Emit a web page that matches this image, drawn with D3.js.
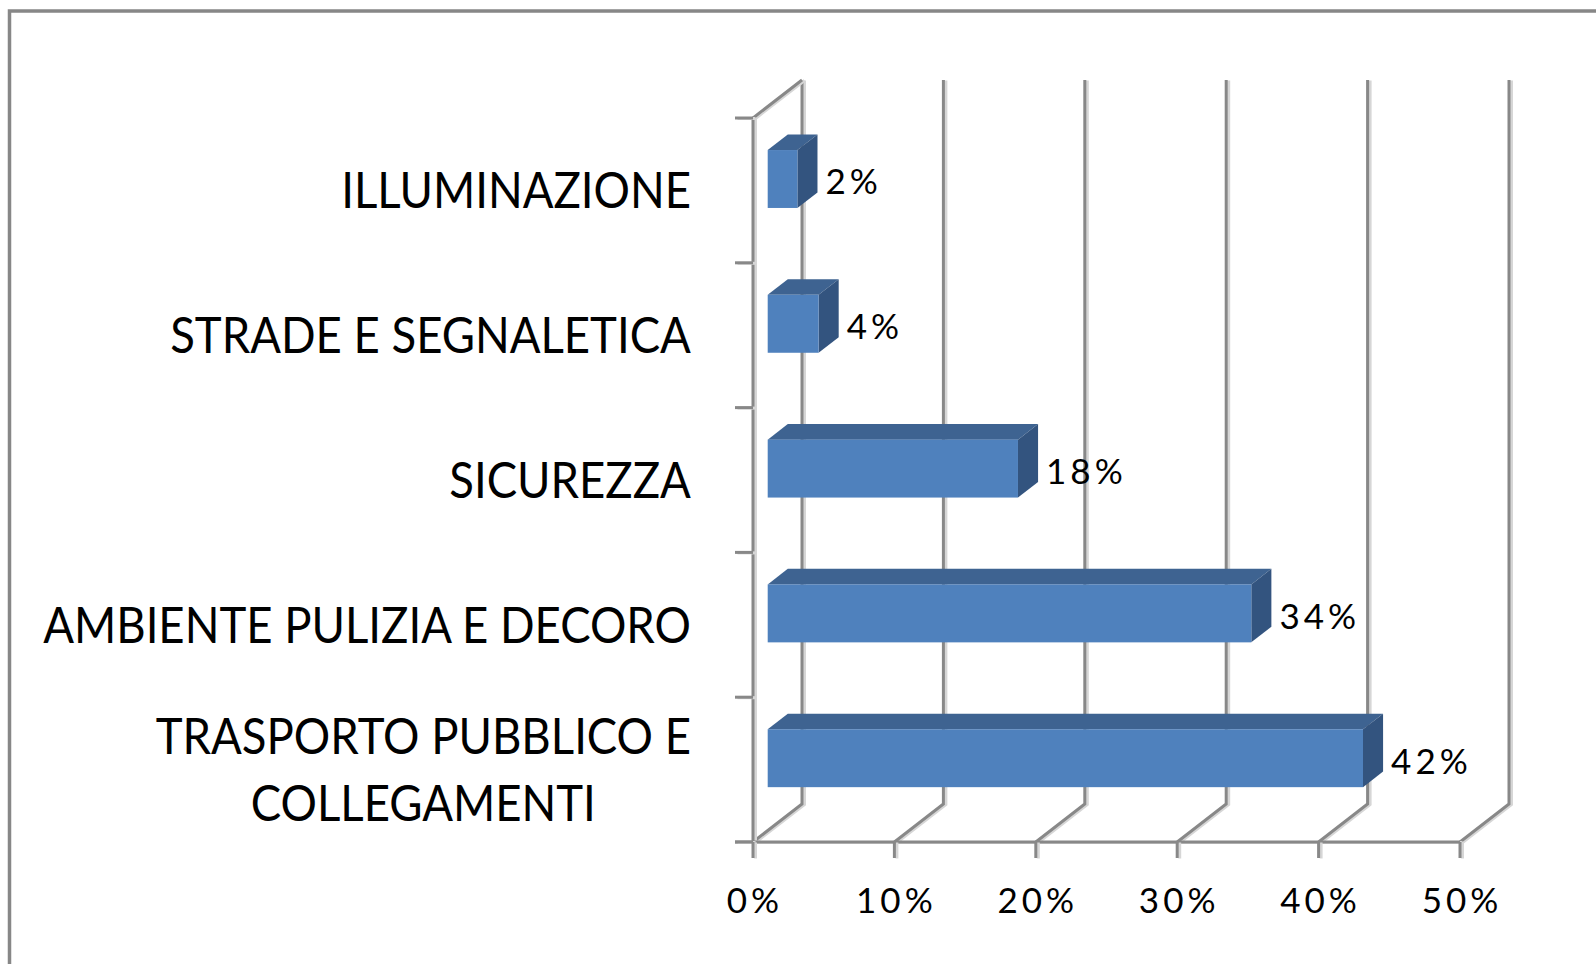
<!DOCTYPE html>
<html>
<head>
<meta charset="utf-8">
<script src="https://cdn.jsdelivr.net/npm/d3@7"></script>
<style>
  body { margin: 0; background: #fff; }
  svg { display: block; }
  text { font-family: Lato, "Open Sans", sans-serif; fill: #000; }
</style>
</head>
<body>
<div id="chart"></div>
<script>
// data
var categories = ["ILLUMINAZIONE", "STRADE E SEGNALETICA", "SICUREZZA",
                  "AMBIENTE PULIZIA E DECORO", "TRASPORTO PUBBLICO E COLLEGAMENTI"];
var values = [0.021, 0.036, 0.177, 0.342, 0.421];
var xTicks = [0, 0.1, 0.2, 0.3, 0.4, 0.5];

var width = 1596, height = 964;
var depth = { dx: 49, dy: 38 };      // full depth of the 3d floor
var barFront = 0.3, barBack = 0.71;  // bar position inside that depth
var squeeze = 0.91;                  // narrow the category labels a bit, like the original font
var numSpacing = 4;                  // the percent labels are spread out in the original

var svg = d3.select("#chart").append("svg")
  .attr("width", width).attr("height", height);

// chart area border (only top and left are visible)
svg.append("path")
  .attr("d", "M9.5,970 L9.5,11 L1600,11")
  .attr("fill", "none").attr("stroke", "#878787").attr("stroke-width", 3.5);

var x = d3.scaleLinear().domain([0, 0.5]).range([753, 1460]);
var y = d3.scaleBand().domain(categories).range([118, 842])
  .paddingInner(0.6).paddingOuter(0.3);

var y0 = y.range()[0], y1 = y.range()[1], step = y.step();
var fmt = d3.format(".0%");

// draws a grid line with the light shadow next to it
function gridLine(g, pts) {
  var line = d3.line();
  g.append("path").attr("d", line(pts.map(function (p) { return [p[0] + 2.5, p[1] + 0.5]; })))
    .attr("fill", "none").attr("stroke", "#d6d6d6").attr("stroke-width", 3);
  g.append("path").attr("d", line(pts))
    .attr("fill", "none").attr("stroke", "#888").attr("stroke-width", 3);
}

var grid = svg.append("g");
// back wall verticals and floor diagonals
xTicks.forEach(function (t) {
  gridLine(grid, [[x(t), y1], [x(t) + depth.dx, y1 - depth.dy], [x(t) + depth.dx, y0 - depth.dy]]);
});
// side wall: top edge and front axis
gridLine(grid, [[x(0) + depth.dx, y0 - depth.dy], [x(0), y0], [x(0), y1]]);
// floor front edge
gridLine(grid, [[x(0) - 18, y1], [x(0.5), y1]]);
// category ticks
d3.range(categories.length + 1).forEach(function (i) {
  gridLine(grid, [[x(0) - 18, y0 + i * step], [x(0), y0 + i * step]]);
});
// value ticks
xTicks.forEach(function (t) {
  gridLine(grid, [[x(t), y1], [x(t), y1 + 16]]);
});

// bars
var data = categories.map(function (c, i) { return { cat: c, value: values[i] }; });
var ox = barFront * depth.dx, oy = barFront * depth.dy;
var bdx = (barBack - barFront) * depth.dx, bdy = (barBack - barFront) * depth.dy;

var bars = svg.append("g").selectAll("g").data(data).join("g");

bars.append("path") // top face
  .attr("fill", "#3e6391")
  .attr("d", function (d) {
    var xa = x(0) + ox, xb = x(d.value) + ox, yt = y(d.cat) - oy;
    return "M" + xa + "," + yt + "L" + (xa + bdx) + "," + (yt - bdy) +
      "L" + (xb + bdx) + "," + (yt - bdy) + "L" + xb + "," + yt + "Z";
  });
bars.append("path") // side face
  .attr("fill", "#33547f")
  .attr("d", function (d) {
    var xb = x(d.value) + ox, yt = y(d.cat) - oy, yb = yt + y.bandwidth();
    return "M" + xb + "," + yt + "L" + (xb + bdx) + "," + (yt - bdy) +
      "L" + (xb + bdx) + "," + (yb - bdy) + "L" + xb + "," + yb + "Z";
  });
bars.append("rect") // front face
  .attr("fill", "#4f81bd")
  .attr("x", x(0) + ox)
  .attr("y", function (d) { return y(d.cat) - oy; })
  .attr("width", function (d) { return x(d.value) - x(0); })
  .attr("height", y.bandwidth());

// value labels
bars.append("text")
  .attr("font-size", 35)
  .attr("letter-spacing", numSpacing)
  .attr("x", function (d) { return x(d.value) + ox + bdx + 8; })
  .attr("y", function (d) { return y(d.cat) + y.bandwidth() / 2 + 4; })
  .text(function (d) { return fmt(d.value); });

// x tick labels
svg.append("g").selectAll("text").data(xTicks).join("text")
  .attr("font-size", 35)
  .attr("letter-spacing", numSpacing)
  .attr("text-anchor", "middle")
  .attr("x", function (t) { return x(t) + numSpacing / 2; })
  .attr("y", 913)
  .text(fmt);

// category labels, wrapped like the original
function wrap(str, maxW, size) {
  var probe = svg.append("text").attr("font-size", size);
  var words = str.split(" "), lines = [], cur = "";
  words.forEach(function (w) {
    var test = cur ? cur + " " + w : w;
    probe.text(test);
    if (probe.node().getComputedTextLength() * squeeze > maxW && cur) {
      lines.push(cur); cur = w;
    } else cur = test;
  });
  lines.push(cur);
  probe.remove();
  return lines;
}

var labelSize = 50, lineH = 67, labelRight = 691;
categories.forEach(function (c) {
  var lines = wrap(c, 700, labelSize);
  var cy = y(c) + y.bandwidth() / 2;
  var t = svg.append("text").attr("font-size", labelSize).attr("text-anchor", "middle");
  lines.forEach(function (l, i) {
    t.append("tspan").attr("x", 0)
      .attr("y", (i - (lines.length - 1) / 2) * lineH + 18)
      .text(l);
  });
  var w = t.node().getBBox().width * squeeze;
  t.attr("transform", "translate(" + (labelRight - w / 2) + "," + cy + ") scale(" + squeeze + ",1)");
});
</script>
</body>
</html>
